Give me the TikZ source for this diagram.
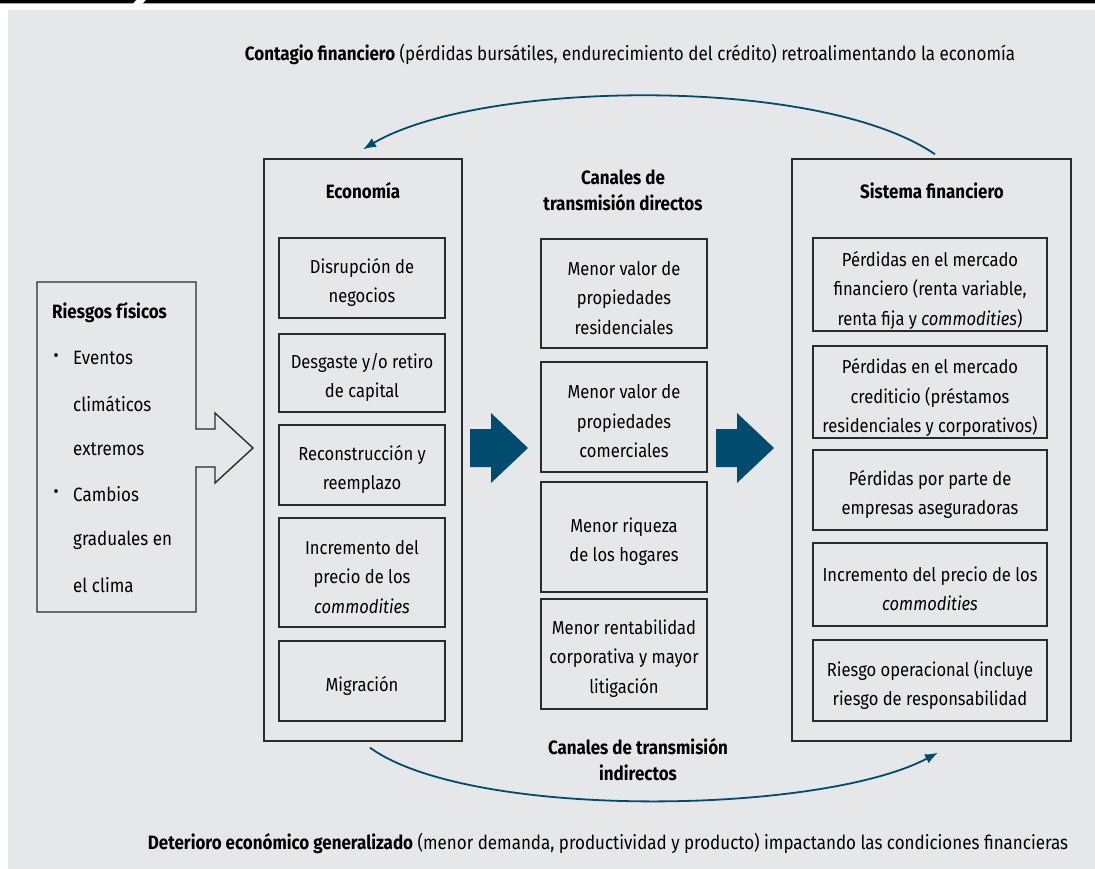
\documentclass[tikz,border=0pt]{standalone}
\usepackage{fontspec}
\setmainfont{Fira Sans}[FakeStretch=0.88]
\usetikzlibrary{arrows.meta}
\definecolor{bg}{HTML}{E6E7E9}
\definecolor{navy}{HTML}{004B6E}
\definecolor{edge}{HTML}{2B2B2B}
\tikzset{
  box/.style={draw=edge, line width=1.4pt, inner sep=0pt},
  btxt/.style={align=center, inner sep=0pt, font=\fontsize{18.8}{29.5}\selectfont},
  ttl/.style={align=center, font=\fontsize{19.3}{26}\selectfont\bfseries, inner sep=0pt},
  txt/.style={font=\fontsize{19.3}{26}\selectfont, inner sep=0pt},
  bul/.style={font=\fontsize{17.5}{20}\selectfont, inner sep=0pt, anchor=west},
  curve/.style={draw=navy, line width=1.8pt, -{Latex[length=13pt,width=10pt]}},
}
\begin{document}
\begin{tikzpicture}[x=1pt,y=-1pt]
\useasboundingbox (0,0) rectangle (1095,869);
\fill[white] (0,0) rectangle (1095,869);
\fill[bg] (8,10) rectangle (1095,869);
\fill[black] (0,0) -- (136,0) -- (133,3.5) -- (0,3.5) -- cycle;
\fill[black] (146,0) -- (1095,0) -- (1095,3.5) -- (143,3.5) -- cycle;

% top and bottom texts
\node[txt] (toptext) at (630,54) {\textbf{Contagio financiero} (pérdidas bursátiles, endurecimiento del crédito) retroalimentando la economía};
\node[txt] (bottext) at (608,843) {\textbf{Deterioro económico generalizado} (menor demanda, productividad y producto) impactando las condiciones financieras};

% Riesgos fisicos shape
\draw[edge, line width=1.4pt, line join=miter] (37,282) -- (196,282) -- (196,429) -- (215,429) -- (215,413) -- (253,448) -- (215,483) -- (215,467) -- (196,467) -- (196,612) -- (37,612) -- cycle;
\node[txt, anchor=west, font=\fontsize{19.3}{26}\selectfont\bfseries] (r0) at (52,313) {Riesgos físicos};
\node[bul] (b1) at (53.5,358) {•};
\node[txt, anchor=west] (r1) at (73,358) {Eventos};
\node[txt, anchor=west] (r2) at (73,404) {climáticos};
\node[txt, anchor=west] (r3) at (73,449) {extremos};
\node[bul] (b2) at (53.5,494) {•};
\node[txt, anchor=west] (r4) at (73,494) {Cambios};
\node[txt, anchor=west] (r5) at (73,540) {graduales en};
\node[txt, anchor=west] (r6) at (73,585) {el clima};

% Economia
\node[box, minimum width=198pt, minimum height=582pt] (eco) at (363,450) {};
\node[ttl] (ecot) at (363,191) {Economía};
\node[box, minimum width=166pt, minimum height=80pt] (e1) at (362,278) {};
\node[btxt] (e1t) at ([yshift=-4.5pt]e1.center) {Disrupción de\\negocios};
\node[box, minimum width=166pt, minimum height=78pt] (e2) at (362,373) {};
\node[btxt] (e2t) at ([yshift=-4.5pt]e2.center) {Desgaste y/o retiro\\de capital};
\node[box, minimum width=166pt, minimum height=80pt] (e3) at (362,465) {};
\node[btxt] (e3t) at ([yshift=-4.5pt]e3.center) {Reconstrucción y\\reemplazo};
\node[box, minimum width=166pt, minimum height=109pt] (e4) at (362,572.5) {};
\node[btxt] (e4t) at ([yshift=-4.5pt]e4.center) {Incremento del\\precio de los\\\textit{commodities}};
\node[box, minimum width=166pt, minimum height=80pt] (e5) at (362,681) {};
\node[btxt] (e5t) at ([yshift=-4.5pt]e5.center) {Migración};

% blue arrows
\fill[navy] (470,429) -- (491,429) -- (491,413) -- (528,448) -- (491,483) -- (491,467) -- (470,467) -- cycle;
\fill[navy] (716,429) -- (737,429) -- (737,413) -- (774,448) -- (737,483) -- (737,467) -- (716,467) -- cycle;

% Canales directos
\node[ttl] (cdt) at (623,190) {Canales de\\transmisión directos};
\node[box, minimum width=166pt, minimum height=109pt] (c1) at (624,293.5) {};
\node[btxt] (c1t) at ([yshift=-4.5pt]c1.center) {Menor valor de\\propiedades\\residenciales};
\node[box, minimum width=166pt, minimum height=110pt] (c2) at (624,417) {};
\node[btxt] (c2t) at ([yshift=-4.5pt]c2.center) {Menor valor de\\propiedades\\comerciales};
\node[box, minimum width=166pt, minimum height=110pt] (c3) at (624,537) {};
\node[btxt] (c3t) at ([yshift=-4.5pt]c3.center) {Menor riqueza\\de los hogares};
\node[box, minimum width=166pt, minimum height=110pt] (c4) at (624,654) {};
\node[btxt] (c4t) at ([yshift=-4.5pt]c4.center) {Menor rentabilidad\\corporativa y mayor\\litigación};

% Sistema financiero
\node[box, minimum width=279pt, minimum height=582pt] (sf) at (931.5,450) {};
\node[ttl] (sft) at (932,191) {Sistema financiero};
\node[box, minimum width=234pt, minimum height=93pt] (s1) at (930,284.5) {};
\node[btxt] (s1t) at ([yshift=-5.5pt]s1.center) {Pérdidas en el mercado\\financiero (renta variable,\\renta fija y \textit{commodities})};
\node[box, minimum width=234pt, minimum height=92pt] (s2) at (930,392) {};
\node[btxt] (s2t) at ([yshift=-5.5pt]s2.center) {Pérdidas en el mercado\\crediticio (préstamos\\residenciales y corporativos)};
\node[box, minimum width=234pt, minimum height=80pt] (s3) at (930,490) {};
\node[btxt] (s3t) at ([yshift=-4.5pt]s3.center) {Pérdidas por parte de\\empresas aseguradoras};
\node[box, minimum width=234pt, minimum height=83pt] (s4) at (930,584.5) {};
\node[btxt] (s4t) at ([yshift=-4.5pt]s4.center) {Incremento del precio de los\\\textit{commodities}};
\node[box, minimum width=234pt, minimum height=81pt] (s5) at (930,680.5) {};
\node[btxt] (s5t) at ([yshift=-4.5pt]s5.center) {Riesgo operacional (incluye\\riesgo de responsabilidad};

% indirect label
\node[ttl] (cit) at (638,760) {Canales de transmisión\\indirectos};

% curves
\coordinate (ta) at ([xshift=3.5pt,yshift=4pt]sf.north);
\coordinate (tb) at ([yshift=9pt]eco.north);
\draw[curve] (ta) .. controls (820,75) and (480,80) .. (tb);
\coordinate (ba) at ([xshift=7pt,yshift=-6pt]eco.south);
\coordinate (bb) at ([xshift=6.5pt,yshift=-11pt]sf.south);
\draw[curve] (ba) .. controls (470,820) and (820,815) .. (bb);
\end{tikzpicture}
\end{document}
